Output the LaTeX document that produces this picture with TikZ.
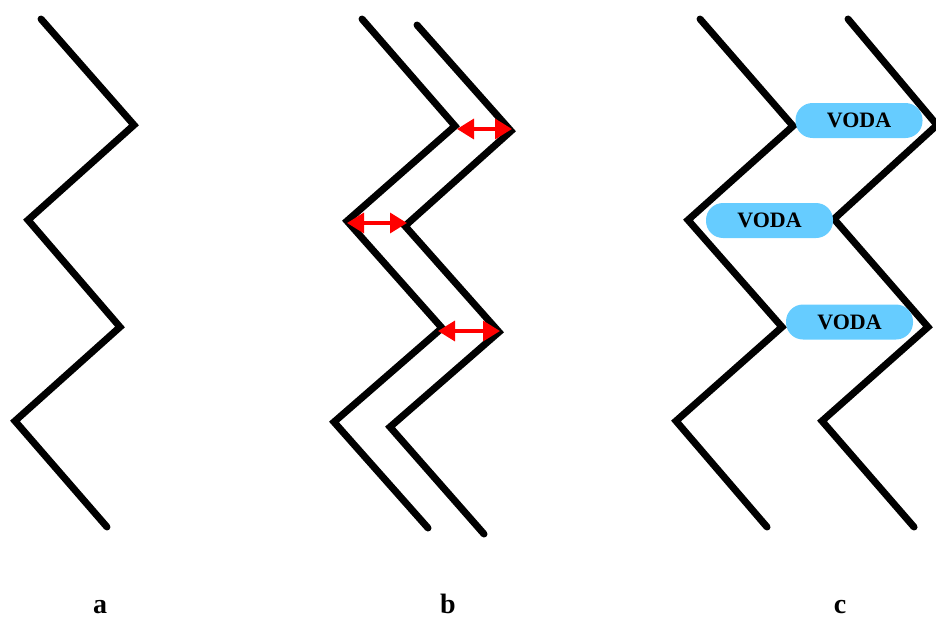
\documentclass[tikz,border=0pt]{standalone}
\usepackage{fontspec}
\setmainfont{Liberation Serif}
\usetikzlibrary{arrows.meta}
\definecolor{pillblue}{RGB}{102,204,255}
\tikzset{
  zig/.style={line width=7pt, line cap=round, line join=miter, black},
  gap/.style={red, line width=3.5pt, {Triangle[length=17pt,width=20pt]}-{Triangle[length=17pt,width=20pt]}},
  pill/.style={fill=pillblue, draw=none, rounded corners=17pt, minimum width=127pt, minimum height=35pt, inner sep=0pt, font=\fontsize{22}{22}\selectfont\bfseries},
  tag/.style={font=\fontsize{28}{28}\selectfont\bfseries, anchor=base}
}
\begin{document}
\begin{tikzpicture}[x=1pt, y=-1pt]
\useasboundingbox (0,0) rectangle (936,618);

% panel a
\coordinate (a0) at (41,19);
\coordinate (a1) at (134,125);
\coordinate (a2) at (28,220);
\coordinate (a3) at (120,327);
\coordinate (a4) at (15,421);
\coordinate (a5) at (107,527);
\draw[zig] (a0) -- (a1) -- (a2) -- (a3) -- (a4) -- (a5);

% panel b, left wall
\coordinate (bl0) at (362,19);
\coordinate (bl1) at (455,126);
\coordinate (bl2) at (347,221);
\coordinate (bl3) at (442,328);
\coordinate (bl4) at (334,422);
\coordinate (bl5) at (428,528);
\draw[zig] (bl0) -- (bl1) -- (bl2) -- (bl3) -- (bl4) -- (bl5);

% panel b, right wall
\coordinate (br0) at (417,25);
\coordinate (br1) at (511,131);
\coordinate (br2) at (405,226);
\coordinate (br3) at (499,332);
\coordinate (br4) at (390,427);
\coordinate (br5) at (484,534);
\draw[zig] (br0) -- (br1) -- (br2) -- (br3) -- (br4) -- (br5);

% gap arrows
\coordinate (g1a) at (457,129);
\coordinate (g1b) at (512,129);
\coordinate (g2a) at (347,223);
\coordinate (g2b) at (407,223);
\coordinate (g3a) at (438,331);
\coordinate (g3b) at (500,331);
\draw[gap] (g1a) -- (g1b);
\draw[gap] (g2a) -- (g2b);
\draw[gap] (g3a) -- (g3b);

% panel c, left wall
\coordinate (cl0) at (700,19);
\coordinate (cl1) at (793,126);
\coordinate (cl2) at (688,220);
\coordinate (cl3) at (782,327);
\coordinate (cl4) at (676,421);
\coordinate (cl5) at (767,527);
\draw[zig] (cl0) -- (cl1) -- (cl2) -- (cl3) -- (cl4) -- (cl5);

% panel c, right wall
\coordinate (cr0) at (848,19);
\coordinate (cr1) at (937,125);
\coordinate (cr2) at (834,219);
\coordinate (cr3) at (928,327);
\coordinate (cr4) at (822,421);
\coordinate (cr5) at (914,527);
\draw[zig] (cr0) -- (cr1) -- (cr2) -- (cr3) -- (cr4) -- (cr5);

% water pockets
\node[pill] (w1) at (859,120.5) {VODA};
\node[pill] (w2) at (769.5,220.5) {VODA};
\node[pill] (w3) at (849.5,322) {VODA};

% panel labels
\node[tag] (la) at (100,613) {a};
\node[tag] (lb) at (448,613) {b};
\node[tag] (lc) at (840,613) {c};
\end{tikzpicture}
\end{document}
